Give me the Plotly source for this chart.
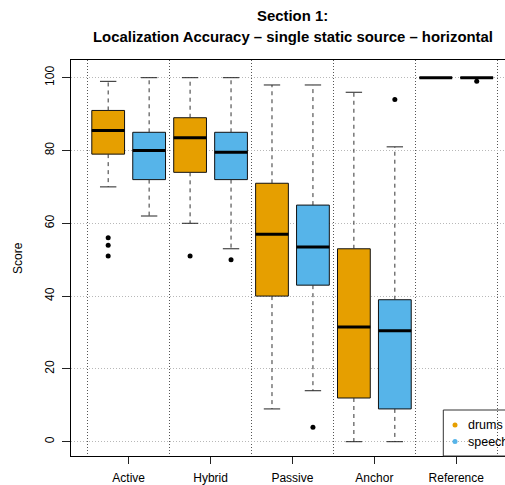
import plotly.graph_objects as go

categories = ["Active", "Hybrid", "Passive", "Anchor", "Reference"]
series = ["drums", "speech"]

drums_lower = [70, 60, 9, 0, 100]
drums_q1 = [79, 74, 40, 12, 100]
drums_median = [85.5, 83.5, 57, 31.5, 100]
drums_q3 = [91, 89, 71, 53, 100]
drums_upper = [99, 100, 98, 96, 100]
drums_outliers = [[56, 54, 51], [51], [], [], []]

speech_lower = [62, 53, 14, 0, 100]
speech_q1 = [72, 72, 43, 9, 100]
speech_median = [80, 79.5, 53.5, 30.5, 100]
speech_q3 = [85, 85, 65, 39, 100]
speech_upper = [100, 100, 98, 81, 100]
speech_outliers = [[], [50], [4], [94], [99]]

y_ticks = [0, 20, 40, 60, 80, 100]

COLORS = {"drums": "#E69F00", "speech": "#56B4E9"}
BOX_W = 0.8
CAP_W = 0.4

stats = {
    "drums": (drums_lower, drums_q1, drums_median, drums_q3, drums_upper, drums_outliers, 1),
    "speech": (speech_lower, speech_q1, speech_median, speech_q3, speech_upper, speech_outliers, 2),
}

fig = go.Figure()

for name in series:
    lo, q1, med, q3, up, outl, off = stats[name]
    pos = [2 * i + off for i in range(len(categories))]
    # whiskers
    wx, wy = [], []
    for p, a, b, c, d in zip(pos, lo, q1, q3, up):
        wx += [p, p, None, p, p, None]
        wy += [c, d, None, b, a, None]
    fig.add_trace(go.Scatter(x=wx, y=wy, mode="lines",
                             line=dict(color="#333", width=1, dash="4px,4px"),
                             showlegend=False, hoverinfo="skip"))
    # caps
    cx, cy = [], []
    for p, a, d in zip(pos, lo, up):
        cx += [p - CAP_W / 2, p + CAP_W / 2, None, p - CAP_W / 2, p + CAP_W / 2, None]
        cy += [a, a, None, d, d, None]
    fig.add_trace(go.Scatter(x=cx, y=cy, mode="lines",
                             line=dict(color="#222", width=1),
                             showlegend=False, hoverinfo="skip"))
    # boxes
    fig.add_trace(go.Box(x=pos, q1=q1, median=med, q3=q3,
                         lowerfence=q1, upperfence=q3,
                         width=BOX_W, fillcolor=COLORS[name],
                         line=dict(color="#111", width=1),
                         boxpoints=False, name=name, showlegend=False,
                         whiskerwidth=0))
    # medians
    mx, my = [], []
    for p, m in zip(pos, med):
        mx += [p - BOX_W / 2, p + BOX_W / 2, None]
        my += [m, m, None]
    fig.add_trace(go.Scatter(x=mx, y=my, mode="lines",
                             line=dict(color="black", width=3),
                             showlegend=False, hoverinfo="skip"))
    # outliers
    ox, oy = [], []
    for p, vals in zip(pos, outl):
        for v in vals:
            ox.append(p)
            oy.append(v)
    fig.add_trace(go.Scatter(x=ox, y=oy, mode="markers",
                             marker=dict(color="black", size=5),
                             showlegend=False, hoverinfo="skip"))

L, T, B = 71, 60, 29
W, H = 505, 485
plot_w = W - L
plot_h = H - T - B


def px_x(px):
    return (px - L) / plot_w


def px_y(py):
    return (H - B - py) / plot_h


font = "Liberation Sans, Arial, sans-serif"

annotations = [
    dict(text="<b>Section 1:</b>", x=px_x(292.5), y=px_y(16), xref="paper", yref="paper",
         showarrow=False, font=dict(size=14.9, color="black", family=font),
         xanchor="center", yanchor="middle"),
    dict(text="<b>Localization Accuracy \u2013 single static source \u2013 horizontal</b>",
         x=px_x(292.5), y=px_y(37.5), xref="paper", yref="paper",
         showarrow=False, font=dict(size=14.9, color="black", family=font),
         xanchor="center", yanchor="middle"),
    dict(text="Score", x=px_x(18), y=0.5, xref="paper", yref="paper", textangle=-90,
         showarrow=False, font=dict(size=12, color="black", family=font),
         xanchor="center", yanchor="middle"),
]

shapes = [
    dict(type="rect", xref="paper", yref="paper", x0=px_x(443.3), x1=1.3,
         y0=0, y1=px_y(410), line=dict(color="#333", width=1), fillcolor="rgba(0,0,0,0)"),
]
for i, name in enumerate(series):
    ypx = 425 + i * 16.5
    shapes.append(dict(type="circle", xref="paper", yref="paper",
                       xsizemode="pixel", ysizemode="pixel",
                       xanchor=px_x(455), yanchor=px_y(ypx),
                       x0=-2.5, x1=2.5, y0=-2.5, y1=2.5,
                       fillcolor=COLORS[name], line=dict(width=0)))
    annotations.append(dict(text=name, x=px_x(465.5), y=px_y(ypx), xref="paper", yref="paper",
                            showarrow=False, xanchor="left", yanchor="middle",
                            font=dict(size=12.5, color="black", family=font)))

fig.update_layout(
    width=W, height=H,
    margin=dict(l=L, r=0, t=T, b=B, pad=0),
    paper_bgcolor="white", plot_bgcolor="white",
    showlegend=False,
    font=dict(family=font, size=12, color="black"),
    annotations=annotations,
    shapes=shapes,
    xaxis=dict(
        range=[0.092, 10.69],
        tickvals=[2 * i + 1.5 for i in range(len(categories))],
        ticktext=categories,
        ticks="outside", ticklen=7, tickcolor="#222", tickwidth=1,
        showgrid=False, zeroline=False,
        showline=True, mirror=True, linecolor="black", linewidth=1,
        tickfont=dict(size=12, color="black", family=font),
        ticklabelstandoff=4,
        minor=dict(tick0=0.5, dtick=2, showgrid=True, gridcolor="#555",
                   griddash="1px,2px", gridwidth=1, ticks=""),
    ),
    yaxis=dict(
        range=[-3.93, 104.86],
        tickvals=y_ticks,
        ticks="outside", ticklen=8, tickcolor="#222", tickwidth=1,
        tickangle=-90,
        showgrid=True, gridcolor="#b8b8b8", griddash="1px,2px", gridwidth=1,
        zeroline=False,
        showline=True, mirror=False, linecolor="black", linewidth=1,
        tickfont=dict(size=12, color="black", family=font),
        ticklabelstandoff=3,
    ),
)

fig.write_html("out.html",
               config={"displayModeBar": False},
               post_script="document.body.style.margin='0';document.body.style.padding='0';")
